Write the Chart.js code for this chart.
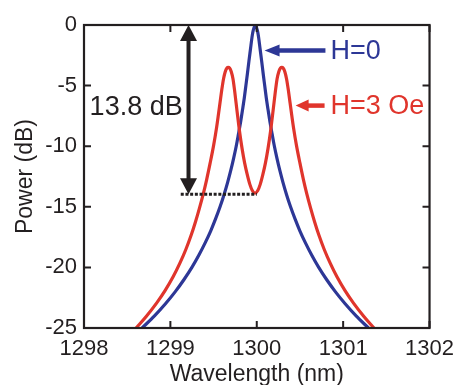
<!DOCTYPE html>
<html>
<head>
<meta charset="utf-8">
<script src="https://cdn.jsdelivr.net/npm/chart.js@4"></script>
<style>
  body { margin: 0; background: #fff; }
  canvas { display: block; }
</style>
</head>
<body>
<canvas id="chart" width="462" height="385"></canvas>
<script>
// H=0 の透過スペクトル (nm, dB)
const blueWl = [1298.673, 1298.816, 1298.943, 1299.057, 1299.158, 1299.249, 1299.329, 1299.401, 1299.466, 1299.523,
  1299.575, 1299.621, 1299.662, 1299.699, 1299.732, 1299.762, 1299.788, 1299.813, 1299.835, 1299.856,
  1299.874, 1299.892, 1299.909, 1299.927, 1299.945, 1299.957, 1299.983,
  1300.009, 1300.021, 1300.039, 1300.057, 1300.074, 1300.092, 1300.110, 1300.131, 1300.153, 1300.178,
  1300.204, 1300.234, 1300.267, 1300.304, 1300.345, 1300.391, 1300.443, 1300.500, 1300.565, 1300.637,
  1300.717, 1300.808, 1300.909, 1301.023, 1301.150, 1301.293];
const bluePow = [-25, -24, -23, -22, -21, -20, -19, -18, -17, -16,
  -15, -14, -13, -12, -11, -10, -9, -8, -7, -6,
  -5, -4, -3, -2, -1, -0.5, 0,
  -0.5, -1, -2, -3, -4, -5, -6, -7, -8, -9,
  -10, -11, -12, -13, -14, -15, -16, -17, -18, -19,
  -20, -21, -22, -23, -24, -25];

// H=3 Oe の透過スペクトル (nm, dB)
const redWl = [1298.603, 1298.72, 1298.84, 1298.94, 1299.03, 1299.11, 1299.18, 1299.24, 1299.29, 1299.335,
  1299.38, 1299.42, 1299.46, 1299.50, 1299.535, 1299.555, 1299.575, 1299.595, 1299.615, 1299.635,
  1299.655, 1299.67, 1299.685, 1299.705, 1299.725, 1299.745, 1299.77, 1299.80, 1299.83, 1299.86,
  1299.89, 1299.92, 1299.95, 1299.98, 1300.01, 1300.04, 1300.07, 1300.10, 1300.13, 1300.16,
  1300.19, 1300.215, 1300.235, 1300.255, 1300.275, 1300.29, 1300.305, 1300.325, 1300.345, 1300.365,
  1300.385, 1300.405, 1300.425, 1300.46, 1300.50, 1300.54, 1300.58, 1300.625, 1300.67, 1300.72,
  1300.78, 1300.85, 1300.93, 1301.02, 1301.12, 1301.24, 1301.357];
const redPow = [-25, -24.05, -22.95, -21.9, -20.8, -19.65, -18.5, -17.35, -16.25, -15.15,
  -13.95, -12.75, -11.4, -9.95, -8.45, -7.45, -6.4, -5.35, -4.45, -3.85,
  -3.55, -3.5, -3.55, -3.85, -4.45, -5.5, -7.0, -8.75, -10.2, -11.4,
  -12.35, -13.15, -13.68, -13.87, -13.68, -13.15, -12.35, -11.4, -10.2, -8.75,
  -7.0, -5.5, -4.45, -3.85, -3.55, -3.5, -3.55, -3.85, -4.45, -5.35,
  -6.4, -7.45, -8.45, -9.95, -11.4, -12.75, -13.95, -15.15, -16.25, -17.35,
  -18.5, -19.65, -20.8, -21.9, -22.95, -24.05, -25];

const xTickValues = [1298, 1299, 1300, 1301, 1302];
const yTickValues = [0, -5, -10, -15, -20, -25];

// 注釈の位置 (データ座標)
const gapArrowX = 1299.21;
const gapTop = 0;
const gapBottom = -13.97;
const dottedFrom = 1299.12;
const dottedTo = 1300.0;

const ink = "#231f20";
const blue = "#2d3796";
const red = "#e0352c";
const fontName = "'Liberation Sans', Arial, sans-serif";

const toPoints = (xs, ys) => xs.map((x, i) => ({ x: x, y: ys[i] }));

// 枠と内向きの目盛り
const framePlugin = {
  id: "frame",
  afterDatasetsDraw(chart) {
    const { ctx, chartArea: a, scales } = chart;
    ctx.save();
    ctx.strokeStyle = ink;
    ctx.lineWidth = 2.2;
    ctx.strokeRect(a.left, a.top, a.right - a.left, a.bottom - a.top);
    ctx.lineWidth = 2;
    ctx.beginPath();
    scales.x.ticks.forEach(t => {
      const px = scales.x.getPixelForValue(t.value);
      ctx.moveTo(px, a.bottom); ctx.lineTo(px, a.bottom - 7);
      ctx.moveTo(px, a.top); ctx.lineTo(px, a.top + 7);
    });
    scales.y.ticks.forEach(t => {
      const py = scales.y.getPixelForValue(t.value);
      ctx.moveTo(a.left, py); ctx.lineTo(a.left + 7, py);
      ctx.moveTo(a.right, py); ctx.lineTo(a.right - 7, py);
    });
    ctx.stroke();
    ctx.restore();
  }
};

function arrowHead(ctx, tipX, tipY, dx, dy, len, half) {
  // dx,dy: 矢印の向き (単位ベクトル)
  const bx = tipX - dx * len, by = tipY - dy * len;
  ctx.beginPath();
  ctx.moveTo(tipX, tipY);
  ctx.lineTo(bx - dy * half, by + dx * half);
  ctx.lineTo(bx + dy * half, by - dx * half);
  ctx.closePath();
  ctx.fill();
}

// 矢印・点線・ラベル
const notePlugin = {
  id: "notes",
  afterDatasetsDraw(chart) {
    const { ctx, scales: { x, y } } = chart;
    ctx.save();

    // 13.8 dB の両矢印
    const ax = x.getPixelForValue(gapArrowX);
    const aTop = y.getPixelForValue(gapTop);
    const aBot = y.getPixelForValue(gapBottom);
    ctx.fillStyle = ink;
    ctx.strokeStyle = ink;
    ctx.lineWidth = 4;
    ctx.beginPath();
    ctx.moveTo(ax, aTop + 12);
    ctx.lineTo(ax, aBot - 12);
    ctx.stroke();
    arrowHead(ctx, ax, aTop, 0, -1, 16, 8.5);
    arrowHead(ctx, ax, aBot, 0, 1, 16, 8.5);

    // 点線
    ctx.lineWidth = 3;
    ctx.setLineDash([3, 1.7]);
    ctx.beginPath();
    ctx.moveTo(x.getPixelForValue(dottedFrom), aBot);
    ctx.lineTo(x.getPixelForValue(dottedTo), aBot);
    ctx.stroke();
    ctx.setLineDash([]);

    ctx.font = "27px " + fontName;
    ctx.textBaseline = "middle";
    ctx.textAlign = "left";
    ctx.fillText("13.8 dB", x.getPixelForValue(1298.065), y.getPixelForValue(-6.8));

    // H=0 の矢印とラベル
    const by = y.getPixelForValue(-2.1);
    ctx.strokeStyle = blue;
    ctx.fillStyle = blue;
    ctx.lineWidth = 4.5;
    ctx.beginPath();
    ctx.moveTo(x.getPixelForValue(1300.795), by);
    ctx.lineTo(x.getPixelForValue(1300.09) + 12, by);
    ctx.stroke();
    arrowHead(ctx, x.getPixelForValue(1300.09), by, -1, 0, 15, 6);
    ctx.fillText("H=0", x.getPixelForValue(1300.853), y.getPixelForValue(-2.2));

    // H=3 Oe の矢印とラベル
    const ry = y.getPixelForValue(-6.65);
    ctx.strokeStyle = red;
    ctx.fillStyle = red;
    ctx.beginPath();
    ctx.moveTo(x.getPixelForValue(1300.785), ry);
    ctx.lineTo(x.getPixelForValue(1300.45) + 10, ry);
    ctx.stroke();
    arrowHead(ctx, x.getPixelForValue(1300.45), ry, -1, 0, 13, 6);
    ctx.fillText("H=3 Oe", x.getPixelForValue(1300.853), y.getPixelForValue(-6.7));

    ctx.restore();
  }
};

new Chart(document.getElementById("chart"), {
  type: "line",
  data: {
    datasets: [
      { label: "H=3 Oe", data: toPoints(redWl, redPow), borderColor: red, borderWidth: 3.2,
        pointRadius: 0, cubicInterpolationMode: "monotone", fill: false },
      { label: "H=0", data: toPoints(blueWl, bluePow), borderColor: blue, borderWidth: 3.2,
        pointRadius: 0, cubicInterpolationMode: "monotone", fill: false }
    ]
  },
  options: {
    responsive: false,
    animation: false,
    devicePixelRatio: 1,
    layout: { padding: { top: 25, right: 29, left: 0, bottom: 0 } },
    plugins: { legend: { display: false }, tooltip: { enabled: false } },
    scales: {
      x: {
        type: "linear",
        min: 1298,
        max: 1302,
        afterBuildTicks: s => { s.ticks = xTickValues.map(v => ({ value: v })); },
        afterFit: s => { s.height = 57; },
        grid: { display: false, drawTicks: false },
        border: { display: false },
        ticks: { color: ink, font: { family: fontName, size: 22 }, padding: 8, maxRotation: 0,
          callback: v => String(v) },
        title: { display: true, text: "Wavelength (nm)", color: ink, padding: 0,
          font: { family: fontName, size: 23, lineHeight: 0.9 } }
      },
      y: {
        min: -25,
        max: 0,
        afterBuildTicks: s => { s.ticks = yTickValues.map(v => ({ value: v })); },
        afterFit: s => { s.width = 84; },
        grid: { display: false, drawTicks: false },
        border: { display: false },
        ticks: { color: ink, font: { family: fontName, size: 22 }, padding: 7,
          callback: v => String(v) },
        title: { display: true, text: "Power (dB)", color: ink, padding: { top: 12, bottom: 0 },
          font: { family: fontName, size: 23 } }
      }
    }
  },
  plugins: [framePlugin, notePlugin]
});
</script>
</body>
</html>
